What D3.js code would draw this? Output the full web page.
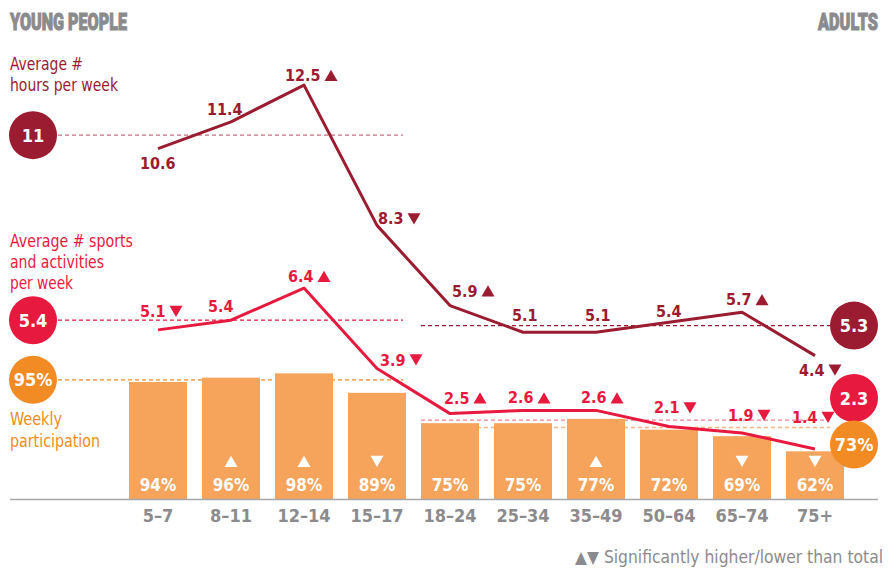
<!DOCTYPE html>
<html><head><meta charset="utf-8">
<script src="https://cdn.jsdelivr.net/npm/d3@7"></script>
<style>
body{margin:0;background:#fff;}
svg{display:block;}
text{font-family:"DejaVu Sans Condensed","DejaVu Sans",sans-serif;font-stretch:condensed;}
text.title{font-family:"Roboto","Lato",sans-serif;font-stretch:normal;}
</style></head><body>
<svg id="chart" width="892" height="572"></svg>
<script>
// ---------- DATA ----------
const categories = ["5–7","8–11","12–14","15–17","18–24","25–34","35–49","50–64","65–74","75+"];
const youngCount = 4; // first four groups are young people
const hoursPerWeek = [10.6, 11.4, 12.5, 8.3, 5.9, 5.1, 5.1, 5.4, 5.7, 4.4];
const hoursSig = [0, 0, 1, -1, 1, 0, 0, 0, 1, -1];
const sportsPerWeek = [5.1, 5.4, 6.4, 3.9, 2.5, 2.6, 2.6, 2.1, 1.9, 1.4];
const sportsSig = [-1, 0, 1, -1, 1, 1, 1, -1, -1, -1];
const participation = [94, 96, 98, 89, 75, 75, 77, 72, 69, 62];
const participationSig = [0, 1, 1, -1, 0, 0, 1, 0, -1, -1];
const youngTotals = [11, 5.4, 95];   // hours, sports, participation
const adultTotals = [5.3, 2.3, 73];
const groupTitles = ["YOUNG PEOPLE", "ADULTS"];
const measureLabels = [["Average #", "hours per week"], ["Average # sports", "and activities", "per week"], ["Weekly", "participation"]];
const footnote = "▲▼ Significantly higher/lower than total";

// ---------- LAYOUT (label nudges, not data) ----------
const hoursLabelOffsets = [[-18,20],[-24,-7],[-19,-4],[1,-1],[2,-9],[-11,-11],[-11,-11],[-13,-5],[-16,-7],[-16,20]];
const sportsLabelOffsets = [[-18,-13],[-23,-8],[-16,-6],[3,-3],[-6,-10],[-15,-7],[-15,-7],[-15,-13],[-14,-12],[-23,-26]];

const C = {
  dark: "#9b1b30", red: "#e8193f", orange: "#f28b24", bar: "#f6a35b",
  gray: "#8b8b8e", hoursDashL: "#c46e7e", hoursDashR: "#9b1b30",
  sportsDashL: "#e8193f", sportsDashR: "#f27e95", partDashL: "#f28b24", partDashR: "#f8b585"
};

const svg = d3.select("#chart");

const x = d3.scaleBand().domain(categories).range([121.5, 851.5]).paddingInner(0.205).paddingOuter(0.1025);
const cx = c => x(c) + x.bandwidth() / 2;
const yH = d3.scaleLinear().domain([0, 14]).range([502.6, 35]);
const yS = d3.scaleLinear().domain([0, 10]).range([494.1, 172.1]);
const yP = d3.scaleLinear().domain([40, 100]).range([499, 369]);
const baseY = yP(40);

const leftStart = 58, leftEnd = x(categories[youngCount-1]) + x.bandwidth() - 3;
const rightStart = x(categories[youngCount]), rightEnd = 830;

// dashed reference lines
const refs = [
  {v: youngTotals[0], s: yH, col: C.hoursDashL, side: "L"},
  {v: youngTotals[1], s: yS, col: C.sportsDashL, side: "L"},
  {v: youngTotals[2], s: yP, col: C.partDashL, side: "L"},
  {v: adultTotals[0], s: yH, col: C.hoursDashR, side: "R"},
  {v: adultTotals[1], s: yS, col: C.sportsDashR, side: "R"},
  {v: adultTotals[2], s: yP, col: C.partDashR, side: "R"}
];
svg.append("g").selectAll("line").data(refs).join("line")
  .attr("x1", d => d.side === "L" ? leftStart : rightStart)
  .attr("x2", d => d.side === "L" ? leftEnd : rightEnd)
  .attr("y1", d => d.s(d.v)).attr("y2", d => d.s(d.v))
  .attr("stroke", d => d.col).attr("stroke-width", 1.3).attr("stroke-dasharray", "4,3");

// bars
svg.append("g").selectAll("rect").data(participation).join("rect")
  .attr("x", (d,i) => x(categories[i])).attr("width", x.bandwidth())
  .attr("y", d => yP(d)).attr("height", d => baseY - yP(d))
  .attr("fill", C.bar);

// baseline + axis
svg.append("line").attr("x1", 10).attr("x2", 878).attr("y1", baseY + 0.5).attr("y2", baseY + 0.5)
  .attr("stroke", "#a7a7a9").attr("stroke-width", 1.5);
const axis = svg.append("g").attr("transform", `translate(0,${baseY})`)
  .call(d3.axisBottom(x).tickSize(0).tickPadding(10));
axis.select(".domain").remove();
axis.selectAll("text").attr("fill", C.gray).attr("font-size", 18).attr("font-weight", "bold")
  .style("font-family", '"DejaVu Sans Condensed","DejaVu Sans",sans-serif');

// triangles helper
const triPath = d3.symbol(d3.symbolTriangle, 73)();
function triangle(g, x0, yb, dir, color) {
  if (dir > 0) {
    g.append("path").attr("d", triPath).attr("fill", color)
      .attr("transform", `translate(${x0 + 6.5},${yb - 3.75})`);
  } else {
    g.append("path").attr("d", triPath).attr("fill", color)
      .attr("transform", `translate(${x0 + 6.5},${yb - 7.5}) rotate(180)`);
  }
}

// percent labels and triangles inside bars
const barLbl = svg.append("g");
participation.forEach((v, i) => {
  barLbl.append("text").attr("x", cx(categories[i])).attr("y", 491)
    .attr("text-anchor", "middle").attr("fill", "#fff").attr("font-size", 17).attr("font-weight", "bold")
    .text(v + "%");
  if (participationSig[i]) triangle(barLbl, cx(categories[i]) - 6.5, 467, participationSig[i], "#fff");
});

// lines
const lineGen = s => d3.line().x((d,i) => cx(categories[i])).y(d => s(d));
svg.append("path").datum(sportsPerWeek).attr("d", lineGen(yS))
  .attr("fill", "none").attr("stroke", C.red).attr("stroke-width", 3).attr("stroke-linejoin", "round");
svg.append("path").datum(hoursPerWeek).attr("d", lineGen(yH))
  .attr("fill", "none").attr("stroke", C.dark).attr("stroke-width", 3).attr("stroke-linejoin", "round");

// value labels
function valueLabels(values, sig, s, offs, color) {
  const g = svg.append("g");
  values.forEach((v, i) => {
    const px = cx(categories[i]), py = s(v);
    const tx = px + offs[i][0], ty = py + offs[i][1];
    const t = g.append("text").attr("x", tx).attr("y", ty).attr("fill", color)
      .attr("font-size", 16).attr("font-weight", "bold").text(v.toFixed(1));
    if (sig[i]) {
      const w = t.node().getComputedTextLength();
      triangle(g, tx + w + 4, ty, sig[i], color);
    }
  });
}
valueLabels(hoursPerWeek, hoursSig, yH, hoursLabelOffsets, C.dark);
valueLabels(sportsPerWeek, sportsSig, yS, sportsLabelOffsets, C.red);

// circles
const fmtTot = [d => d3.format("")(d), d => d.toFixed(1), d => d + "%"];
const circles = [
  {x: 33, y: yH(youngTotals[0]), t: fmtTot[0](youngTotals[0]), col: C.dark},
  {x: 33, y: yS(youngTotals[1]), t: fmtTot[1](youngTotals[1]), col: C.red},
  {x: 33, y: yP(youngTotals[2]), t: fmtTot[2](youngTotals[2]), col: C.orange},
  {x: 854, y: yH(adultTotals[0]), t: fmtTot[1](adultTotals[0]), col: C.dark},
  {x: 854, y: yS(adultTotals[1]) - 22, t: fmtTot[1](adultTotals[1]), col: C.red},
  {x: 854, y: yP(adultTotals[2]) + 17, t: fmtTot[2](adultTotals[2]), col: C.orange}
];
const cg = svg.append("g").selectAll("g").data(circles).join("g")
  .attr("transform", d => `translate(${d.x},${d.y})`);
cg.append("circle").attr("r", 24).attr("fill", d => d.col);
cg.append("text").attr("text-anchor", "middle").attr("y", 6.5).attr("fill", "#fff")
  .attr("font-size", 18).attr("font-weight", "bold").text(d => d.t);

// titles (heavy, horizontally compressed via transform)
function title(txt, xLeft, width) {
  const t = svg.append("text").attr("class", "title").attr("x", 0).attr("y", 0)
    .attr("fill", C.gray).attr("stroke", C.gray).attr("stroke-width", 1.1)
    .attr("font-size", 24).attr("font-weight", 900).text(txt);
  const w = t.node().getComputedTextLength();
  t.attr("transform", `translate(${xLeft},30) scale(${width / w},1)`);
}
title(groupTitles[0], 10, 117);
title(groupTitles[1], 818, 60);

// measure labels
const mLayout = [
  {col: C.dark, ys: [70, 91], w: [73, 108]},
  {col: C.red, ys: [247, 268, 289], w: [123, 94, 63]},
  {col: C.orange, ys: [425, 447], w: [52, 90]}
];
measureLabels.forEach((lines, k) => {
  lines.forEach((ln, j) => {
    svg.append("text").attr("x", 10).attr("y", mLayout[k].ys[j]).attr("fill", mLayout[k].col)
      .attr("font-size", 18).attr("textLength", mLayout[k].w[j]).attr("lengthAdjust", "spacingAndGlyphs").text(ln);
  });
});

// footnote
svg.append("text").attr("x", 575).attr("y", 563).attr("fill", C.gray)
  .attr("font-size", 17).attr("textLength", 308).attr("lengthAdjust", "spacingAndGlyphs").text(footnote);
</script>
</body></html>
